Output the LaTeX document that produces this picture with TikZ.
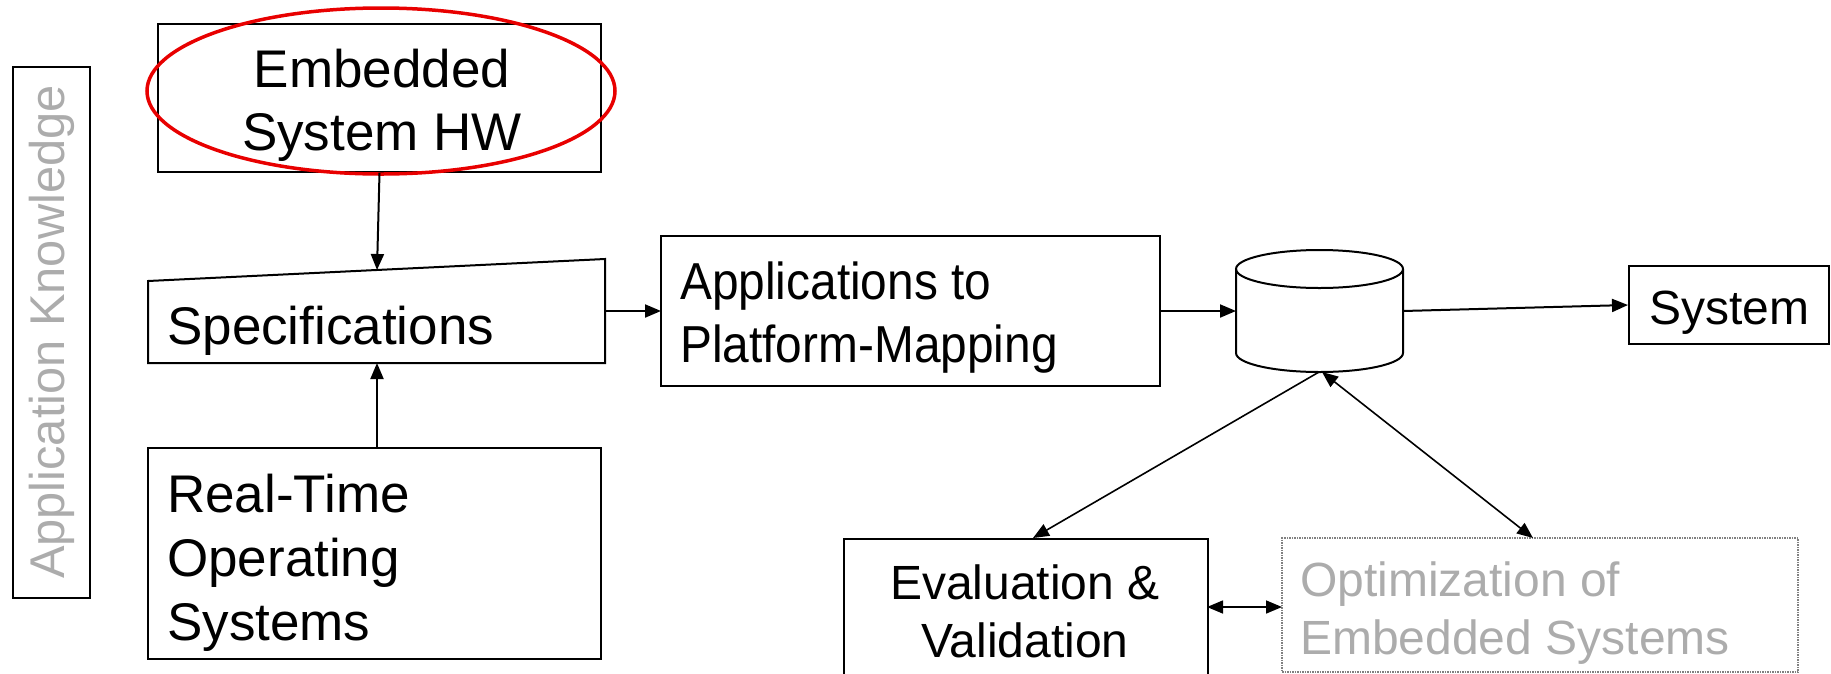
\documentclass[tikz,border=0pt]{standalone}
\usepackage{fontspec}
\setmainfont{Liberation Sans}
\newfontfamily\narrowsans{Liberation Sans}[FakeStretch=0.92]
\usetikzlibrary{arrows.meta,shapes.geometric,calc}
\definecolor{lgray}{RGB}{172,172,172}
\definecolor{ered}{RGB}{232,0,0}
\tikzset{
  box/.style={draw=black, line width=2pt, rectangle, inner sep=0pt},
  txt/.style={inner sep=0pt},
  conn/.style={line width=2pt, -{Triangle[length=16pt,width=13pt]}},
  dconn/.style={line width=1.6pt, {Triangle[length=16pt,width=13pt]}-{Triangle[length=16pt,width=13pt]}},
  big/.style={font=\fontsize{53}{63}\selectfont},
  mid/.style={font=\fontsize{48}{58}\selectfont},
}
\begin{document}
\begin{tikzpicture}[x=1pt,y=-1pt]
\useasboundingbox (0,0) rectangle (1831,673);
\clip (0,0) rectangle (1831,673);

% Application Knowledge
\node[box, minimum width=77pt, minimum height=531pt] (ak) at (51.5,332.5) {};
\node[txt, rotate=90, text=lgray, font=\fontsize{48.8}{58}\selectfont] (akt) at (52,332) {Application Knowledge};

% Embedded System HW
\node[box, minimum width=443pt, minimum height=148pt] (emb) at (379.5,98) {};
\node[txt, big, align=center] (embt) at (382,105) {Embedded\\System HW};
\node[draw=ered, line width=3.5pt, ellipse, minimum width=468pt, minimum height=166pt, inner sep=0pt] (hl) at (381,91) {};

% Specifications (slanted top)
\coordinate (sTL) at (148,281);
\coordinate (sTR) at (605,259);
\coordinate (sBR) at (605,363);
\coordinate (sBL) at (148,363);
\draw[line width=2pt] (sTL) -- (sTR) -- (sBR) -- (sBL) -- cycle;
\node[txt, big, anchor=west] (spec) at (167,331) {Specifications};
\coordinate (specN) at (377,270);
\coordinate (specS) at (377,363);
\coordinate (specE) at (605,311);

% RTOS
\node[box, minimum width=453pt, minimum height=211pt] (rtos) at (374.5,553.5) {};
\node[txt, align=left, anchor=west, font=\fontsize{53}{64}\selectfont] (rtost) at (167,563) {Real-Time\\Operating\\Systems};
\coordinate (rtosN) at (377,448);

% Applications to Platform-Mapping
\node[box, minimum width=499pt, minimum height=150pt] (apps) at (910.5,310.5) {};
\node[txt, align=left, anchor=west, font=\narrowsans\fontsize{52}{63}\selectfont] (appst) at (680,318) {Applications to\\Platform-Mapping};
\coordinate (appsW) at (661,311);
\coordinate (appsE) at (1160,311);

% Cylinder
\coordinate (db) at (1319.5,311);
\draw[line width=2pt] (1236,269) -- (1236,353) arc[start angle=180, end angle=360, x radius=83.5pt, y radius=19pt] -- (1403,269);
\draw[line width=2pt] (1319.5,269) ellipse [x radius=83.5pt, y radius=19pt];
\coordinate (dbW) at (1236,311);
\coordinate (dbE) at (1403,311);
\coordinate (dbS1) at (1319,372);
\coordinate (dbS2) at (1322,372);

% System
\node[box, minimum width=200pt, minimum height=78pt] (sys) at (1729,305) {};
\node[txt, font=\fontsize{48}{58}\selectfont] (syst) at (1729,313) {System};

% Evaluation & Validation
\node[box, minimum width=364pt, minimum height=200pt, anchor=north west] (eval) at (843,538) {};
\node[txt, mid, align=center] (evalt) at (1025,611) {Evaluation \&\\Validation};
\coordinate (evalN) at (1033,538);
\coordinate (evalE) at (1207,607);

% Optimization
\node[draw=gray, densely dotted, line width=1.5pt, rectangle, minimum width=516pt, minimum height=134pt] (opt) at (1540,605) {};
\node[txt, mid, text=lgray, align=left, anchor=west] (optt) at (1300,613) {Optimization of\\Embedded Systems};
\coordinate (optN) at (1533,538);
\coordinate (optW) at (1282,607);

% connectors
\draw[conn] (emb.south) -- (specN);
\draw[conn] (rtosN) -- (specS);
\draw[conn] (specE) -- (appsW);
\draw[conn] (appsE) -- (dbW);
\draw[conn] (dbE) -- (sys.west);
\draw[line width=1.6pt, -{Triangle[length=16pt,width=13pt]}] (dbS1) -- (evalN);
\draw[dconn] (dbS2) -- (optN);
\draw[dconn] (evalE) -- (optW);
\end{tikzpicture}
\end{document}
